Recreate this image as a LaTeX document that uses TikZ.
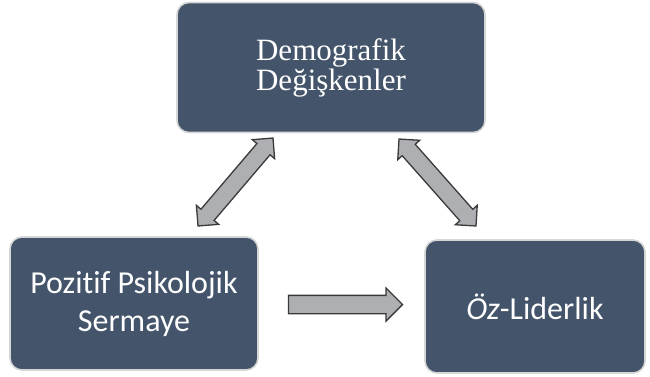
\documentclass[tikz,border=0pt]{standalone}
\usepackage{fontspec}
\setmainfont{Liberation Serif}
\newfontfamily\calibri[Ligatures={NoCommon}]{Carlito}
\usetikzlibrary{shapes.arrows, calc}
\definecolor{slate}{HTML}{44546A}
\definecolor{rim}{HTML}{D6D6D6}
\definecolor{arrgrey}{HTML}{AEAFB2}
\definecolor{arredge}{HTML}{3A3A3A}

\begin{document}
\begin{tikzpicture}[x=1pt, y=-1pt,
  box/.style={rounded corners=12pt, fill=slate, draw=rim, line width=1.6pt,
    text=white, align=center, inner sep=0pt},
  blockarrow/.style={fill=arrgrey, draw=arredge, line width=1.3pt, inner xsep=0pt}]
  \useasboundingbox (0,0) rectangle (650,376);
  % the three boxes
  \node[box, minimum width=308pt, minimum height=130pt, font=\fontsize{31}{30}\selectfont]
    (dem) at (331,67.5) {Demografik\\Değişkenler};
  \node[box, minimum width=248pt, minimum height=133pt, font=\calibri\fontsize{32}{38}\selectfont]
    (psy) at (134,303.5) {Pozitif Psikolojik\\Sermaye};
  \node[box, minimum width=220pt, minimum height=133pt, font=\calibri\fontsize{32}{38}\selectfont]
    (lid) at (535,306.5) {\textit{Öz}-Liderlik};
  % tips of the block arrows
  \coordinate (l1) at (198,226);
  \coordinate (l2) at (273,138);
  \coordinate (r1) at (476,226);
  \coordinate (r2) at (399,139);
  \coordinate (h1) at (284,304.5);
  \coordinate (h2) at (398,304.5);
  % double arrows between the top box and the lower boxes
  \path let \p1=($(l2)-(l1)$), \n1={atan2(\y1,\x1)}, \n2={veclen(\x1,\y1)} in
    node[blockarrow, double arrow, inner ysep=8pt, double arrow head extend=6pt,
      minimum height=\n2, rotate=\n1] (la) at ($(l1)!0.5!(l2)$) {};
  \path let \p1=($(r2)-(r1)$), \n1={atan2(\y1,\x1)}, \n2={veclen(\x1,\y1)} in
    node[blockarrow, double arrow, inner ysep=8pt, double arrow head extend=6pt,
      minimum height=\n2, rotate=\n1] (ra) at ($(r1)!0.5!(r2)$) {};
  % single arrow from left box to right box
  \path let \p1=($(h2)-(h1)$), \n2={veclen(\x1,\y1)} in
    node[blockarrow, single arrow, inner ysep=8.5pt, single arrow head extend=7.5pt,
      minimum height=\n2] (ha) at ($(h1)!0.5!(h2)$) {};
\end{tikzpicture}
\end{document}
